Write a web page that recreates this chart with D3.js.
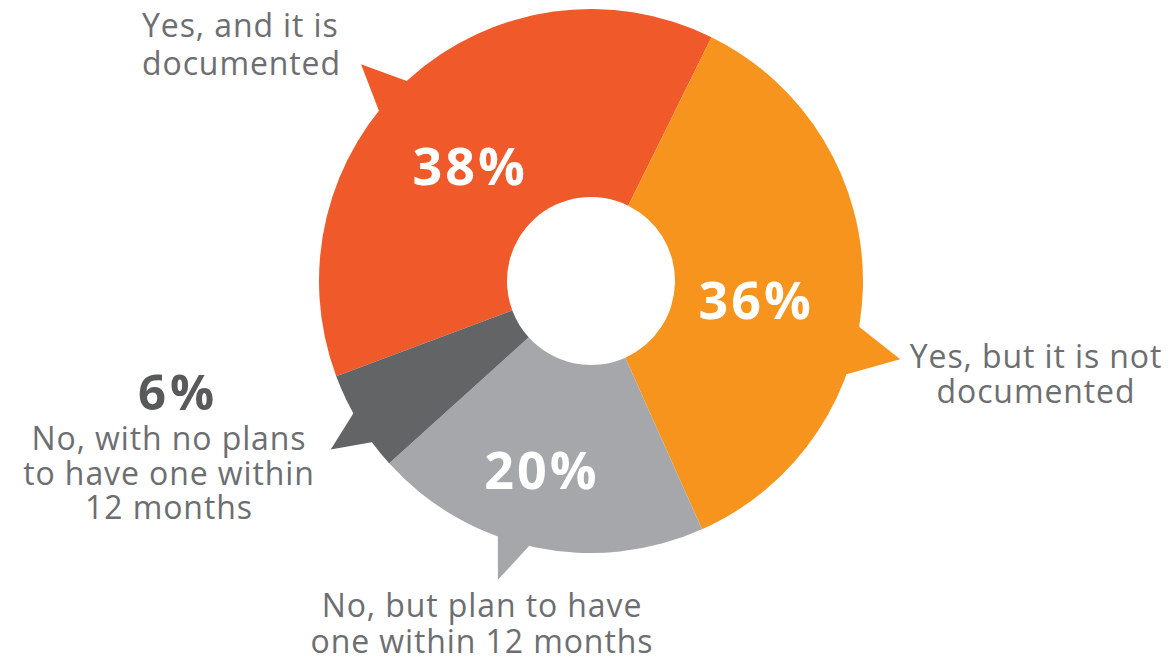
<!DOCTYPE html>
<html>
<head>
<meta charset="utf-8">
<script src="https://cdn.jsdelivr.net/npm/d3@7"></script>
<style>
  html, body { margin: 0; padding: 0; background: #fff; }
  svg { display: block; }
</style>
</head>
<body>
<svg id="chart" width="1171" height="661"></svg>
<script>
(function(){
'use strict';

    // data
    var categories = ['Yes, and it is documented', 'Yes, but it is not documented',
                      'No, but plan to have one within 12 months', 'No, with no plans to have one within 12 months'];
    var shares = [38, 36, 20, 6];
    var labelLines = [
        ['Yes, and it is', 'documented'],
        ['Yes, but it is not', 'documented'],
        ['No, but plan to have', 'one within 12 months'],
        ['No, with no plans', 'to have one within', '12 months']
    ];
    var colors = ['#f05a2a', '#f7941e', '#a6a7aa', '#636466'];

    var cx = 591, cy = 281,
        outerR = 272, innerR = 84,
        rad = Math.PI / 180,
        textColor = '#6d6e71',
        font = '"Open Sans", Lato, sans-serif';

    // speech bubble tails: base angles, tip angle, tip radius (degrees from 12 o'clock)
    var tails = [
        {a0: -52, a1: -42, tip: -46.7, r: 316},
        {a0: 99, a1: 111, tip: 104.2, r: 319},
        {a0: 192.4, a1: 200.5, tip: 197.3, r: 313},
        {a0: 233, a1: 241.6, tip: 237.1, r: 310}
    ];
    // in-slice percent label placement: angle shift from mid-angle, radius
    var pctPlace = [
        {shift: -5, r: 167, inside: true},
        {shift: 6, r: 165, inside: true},
        {shift: 3, r: 197, inside: true},
        {inside: false}
    ];
    // outside text blocks: anchor, x, first baseline, line height
    var textPlace = [
        {anchor: 'start', x: 142, y: 37, lh: 38},
        {anchor: 'middle', x: 1036, y: 368, lh: 35},
        {anchor: 'middle', x: 482, y: 617, lh: 35.5},
        {anchor: 'middle', x: 169, y: 450, lh: 34.5}
    ];

    var svg = d3.select('#chart');
    var g = svg.append('g').attr('transform', 'translate(' + cx + ',' + cy + ')');

    var pie = d3.pie().sort(null).value(function(d) { return d; })
        .startAngle(-110.5 * rad).endAngle(249.5 * rad);
    var arcs = pie(shares);
    var arc = d3.arc().innerRadius(innerR).outerRadius(outerR);

    var polar = function(angDeg, r) {
        var a = angDeg * rad;
        return [Math.sin(a) * r, -Math.cos(a) * r];
    };

    // tails first, under the slices
    g.selectAll('path.tail').data(arcs).enter().append('path')
        .attr('class', 'tail')
        .attr('fill', function(d, i) { return colors[i]; })
        .attr('d', function(d, i) {
            var t = tails[i];
            var p0 = polar(t.a0, outerR - 6), p1 = polar(t.tip, t.r), p2 = polar(t.a1, outerR - 6);
            return 'M' + p0 + 'L' + p1 + 'L' + p2 + 'Z';
        });

    g.selectAll('path.slice').data(arcs).enter().append('path')
        .attr('class', 'slice')
        .attr('fill', function(d, i) { return colors[i]; })
        .attr('d', arc);

    // percent labels inside slices
    g.selectAll('text.pct').data(arcs.filter(function(d, i) { return pctPlace[i].inside; }))
        .enter().append('text')
        .attr('class', 'pct')
        .attr('text-anchor', 'middle')
        .attr('fill', '#fff')
        .style('font-family', font)
        .style('font-weight', 700)
        .style('font-size', '52px')
        .style('letter-spacing', '3px')
        .attr('transform', function(d) {
            var i = d.index, mid = (d.startAngle + d.endAngle) / 2 / rad + pctPlace[i].shift;
            var p = polar(mid, pctPlace[i].r);
            return 'translate(' + (p[0] + 1.5) + ',' + (p[1] + 18) + ')';
        })
        .text(function(d) { return d.data + '%'; });

    // outside category labels
    var blocks = svg.selectAll('g.label').data(categories).enter().append('g')
        .attr('class', 'label');

    blocks.each(function(c, i) {
        var place = textPlace[i];
        var t = d3.select(this).append('text')
            .attr('text-anchor', place.anchor)
            .attr('fill', textColor)
            .style('font-family', font)
            .style('font-size', '32px')
            .style('letter-spacing', '0.9px');
        labelLines[i].forEach(function(line, k) {
            t.append('tspan').attr('x', place.x).attr('y', place.y + k * place.lh).text(line);
        });
        if (!pctPlace[i].inside) {
            d3.select(this).append('text')
                .attr('text-anchor', 'middle')
                .attr('x', place.x + 9)
                .attr('y', place.y - 40)
                .attr('fill', '#58595b')
                .style('font-family', font)
                .style('font-weight', 700)
                .style('font-size', '49px')
                .style('letter-spacing', '4px')
                .text(shares[i] + '%');
        }
    });

})();
</script>
</body>
</html>
